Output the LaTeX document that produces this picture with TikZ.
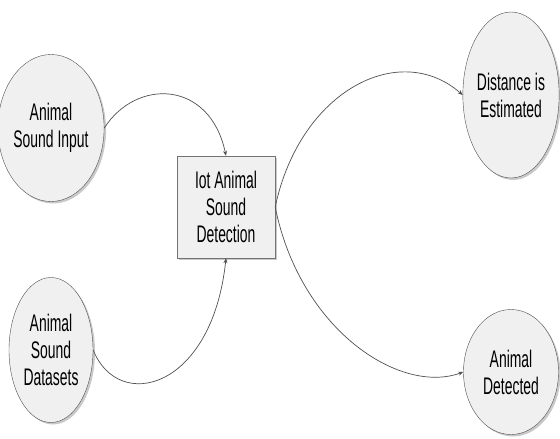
\documentclass[tikz,border=0pt]{standalone}
\usepackage{fontspec}
\setmainfont[FakeStretch=0.58]{Liberation Sans}
\usepackage{tikz}
\usetikzlibrary{shapes.geometric,shadows,arrows.meta,positioning}
\definecolor{nodegray}{HTML}{F0F0F0}
\definecolor{edgegray}{HTML}{505050}

\begin{document}
\begin{tikzpicture}[x=1pt, y=-1pt,
    soundnode/.style={ellipse, draw=edgegray, fill=nodegray, inner sep=0pt, align=center,
                 font=\fontsize{24}{27}\selectfont,
                 drop shadow={shadow xshift=2pt, shadow yshift=-2pt, fill=black!35, opacity=0.6}},
    procbox/.style={rectangle, draw=edgegray!80, fill=nodegray, inner sep=0pt, align=center,
                 minimum width=98pt, minimum height=102pt, font=\fontsize{24}{27}\selectfont,
                 drop shadow={shadow xshift=2pt, shadow yshift=-2pt, fill=black!35, opacity=0.6}},
    arr/.style={-{Stealth[length=5pt,width=4pt]}, edgegray, line width=0.7pt}
]
    \useasboundingbox[fill=white] (0,0) rectangle (560,439);
    \node[soundnode, minimum width=84pt, minimum height=147pt] (inp) at (51,128) {Animal\\Sound Input};
    \node[soundnode, minimum width=84pt, minimum height=145pt] (dat) at (51,350) {Animal\\Sound\\Datasets};
    \node[procbox] (iot) at (226,207) {Iot Animal\\Sound\\Detection};
    \node[soundnode, minimum width=94pt, minimum height=166pt] (est) at (511,95) {Distance is\\Estimated};
    \node[soundnode, minimum width=95pt, minimum height=125pt] (det) at (511,372) {Animal\\Detected};
    \draw[arr] (inp.east) .. controls +(32,-50) and +(-16,-76) .. (iot.north);
    \draw[arr] (dat.east) .. controls +(25,63) and +(-14,132) .. (iot.south);
    \draw[arr] (iot.east) .. controls (300,90) and (400,40) .. (est.west);
    \draw[arr] (iot.east) .. controls (300,330) and (400,395) .. (det.west);
\end{tikzpicture}
\end{document}
